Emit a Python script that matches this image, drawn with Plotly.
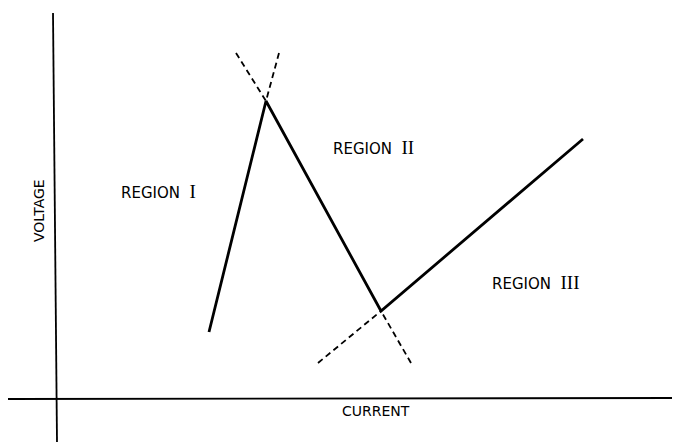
import plotly.graph_objects as go

# Characteristic curve (current, voltage) (pixel-like units)
curve_current = [209, 266, 381, 583]
curve_voltage = [332, 101, 311, 139]

# Dashed extension lines through the peak and the valley
peak_dash_a_current = [236, 266]
peak_dash_a_voltage = [53, 101]
peak_dash_b_current = [279, 266]
peak_dash_b_voltage = [53, 101]
valley_dash_a_current = [318, 381]
valley_dash_a_voltage = [363, 311]
valley_dash_b_current = [411, 381]
valley_dash_b_voltage = [363, 311]

# Axes lines
y_axis_current = [53, 57]
y_axis_voltage = [13, 442]
x_axis_current = [8, 672]
x_axis_voltage = [399, 398]

region_labels = ["REGION", "REGION", "REGION"]
region_numerals = ["I", "II", "III"]
region_x = [158, 373, 536]
region_y = [191, 147, 282]

fig = go.Figure()

def add_line(x, y, width, dash="solid"):
    fig.add_trace(go.Scatter(x=x, y=y, mode="lines",
                             line=dict(color="black", width=width, dash=dash),
                             hoverinfo="skip", showlegend=False))

add_line(y_axis_current, y_axis_voltage, 1.8)
add_line(x_axis_current, x_axis_voltage, 1.8)
add_line(curve_current, curve_voltage, 2.8)
add_line(peak_dash_a_current, peak_dash_a_voltage, 1.8, "6px,4px")
add_line(peak_dash_b_current, peak_dash_b_voltage, 1.8, "6px,4px")
add_line(valley_dash_a_current, valley_dash_a_voltage, 1.8, "6px,4px")
add_line(valley_dash_b_current, valley_dash_b_voltage, 1.8, "6px,4px")

for lab, num, x, y in zip(region_labels, region_numerals, region_x, region_y):
    fig.add_annotation(
        x=x, y=y, xref="x", yref="y", showarrow=False,
        text=lab + "&nbsp;&nbsp;<span style='font-family:Liberation Serif;font-size:19px'>" + num + "</span>",
        font=dict(family="DejaVu Sans", size=15, color="black"))

fig.add_annotation(x=376, y=411, xref="x", yref="y", showarrow=False,
                   text="CURRENT", font=dict(family="DejaVu Sans", size=14, color="black"))
fig.add_annotation(x=39, y=211, xref="x", yref="y", showarrow=False, textangle=-90,
                   text="VOLTAGE", font=dict(family="DejaVu Sans", size=14, color="black"))

fig.update_xaxes(range=[0, 681], visible=False, fixedrange=True)
fig.update_yaxes(range=[442, 0], visible=False, fixedrange=True)
fig.update_layout(width=681, height=442, margin=dict(l=0, r=0, t=0, b=0),
                  plot_bgcolor="white", paper_bgcolor="white")

fig.write_html("out.html", config={"displayModeBar": False},
               post_script="document.body.style.margin='0';")
